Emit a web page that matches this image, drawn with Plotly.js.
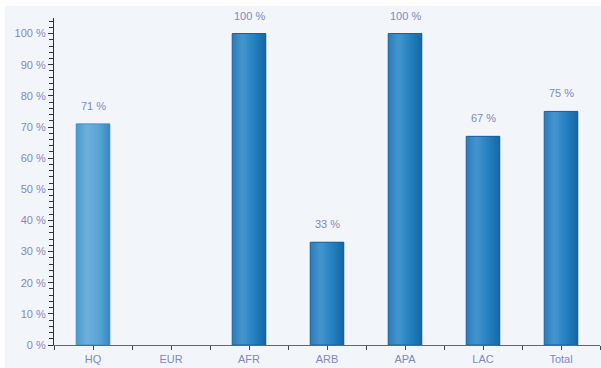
<!DOCTYPE html>
<html>
<head>
<meta charset="utf-8">
<script src="https://cdn.plot.ly/plotly-3.0.1.min.js"></script>
<style>
html,body{margin:0;padding:0;background:#ffffff;}
#chart{width:601px;height:368px;}
</style>
</head>
<body>
<div id="chart"></div>
<script>
// Data
const categories = ["HQ", "EUR", "AFR", "ARB", "APA", "LAC", "Total"];
const values = [71, 0, 100, 33, 100, 67, 75];
const yTickValues = [0, 10, 20, 30, 40, 50, 60, 70, 80, 90, 100];

// Styling
const labelColor = "#7f88c2";
const fontFam = "Liberation Sans, Arial, sans-serif";
const barWidth = 0.43;
const nStripes = 16;
const normalStops = [[0, [44,122,185]], [0.3, [68,150,206]], [0.65, [38,128,192]], [1, [20,104,164]]];
const lightStops  = [[0, [74,152,205]], [0.3, [110,177,222]], [0.7, [88,163,212]], [1, [58,136,194]]];

function gradColor(stops, t) {
  for (let i = 0; i < stops.length - 1; i++) {
    const [t0, c0] = stops[i], [t1, c1] = stops[i + 1];
    if (t >= t0 && t <= t1) {
      const f = (t - t0) / (t1 - t0);
      const c = c0.map((v, j) => Math.round(v + (c1[j] - v) * f));
      return `rgb(${c[0]},${c[1]},${c[2]})`;
    }
  }
  const c = stops[stops.length - 1][1];
  return `rgb(${c[0]},${c[1]},${c[2]})`;
}

const xIdx = categories.map((_, i) => i);
const shownValues = values.map(v => v > 0 ? v : null);
const traces = [];
for (let k = 0; k < nStripes; k++) {
  const t = (k + 0.5) / nStripes;
  const start = -barWidth / 2 + k * barWidth / nStripes;
  traces.push({
    type: "bar",
    x: xIdx,
    y: shownValues,
    offset: start,
    width: barWidth / 2 - start,
    marker: {
      color: categories.map((c, i) => gradColor(i === 0 ? lightStops : normalStops, t)),
      line: {width: 0}
    },
    hoverinfo: "skip",
    showlegend: false
  });
}
// outline
traces.push({
  type: "bar",
  x: xIdx,
  y: shownValues,
  width: barWidth,
  marker: {color: "rgba(0,0,0,0)", line: {color: categories.map((c, i) => i === 0 ? "#3f8cc4" : "#1a609a"), width: 1}},
  hoverinfo: "skip",
  showlegend: false
});

const annotations = values.map((v, i) => v > 0 ? {
  x: i, y: v, xref: "x", yref: "y",
  text: v + " %", showarrow: false,
  yanchor: "bottom", yshift: 10,
  font: {family: fontFam, size: 11, color: labelColor}
} : null).filter(a => a);

const layout = {
  width: 601, height: 368,
  margin: {l: 54, r: 1, t: 18, b: 23, pad: 0},
  paper_bgcolor: "#ffffff",
  plot_bgcolor: "rgba(0,0,0,0)",
  barmode: "overlay",
  showlegend: false,
  font: {family: fontFam, size: 11, color: labelColor},
  shapes: [{
    type: "rect", xref: "paper", yref: "paper", layer: "below",
    x0: -0.0897, x1: 1.01, y0: -0.08, y1: 1.0367,
    fillcolor: "#f2f6fb", line: {width: 0}
  }],
  xaxis: {
    range: [-0.5, 6.5],
    tickmode: "array", tickvals: xIdx, ticktext: categories,
    ticks: "outside", ticklen: 4, tickwidth: 1, tickcolor: "#444",
    showline: true, linecolor: "#666", linewidth: 1,
    showgrid: false, zeroline: false,
    tickfont: {family: fontFam, size: 11, color: labelColor},
    minor: {dtick: 0.5, tick0: -0.5, ticks: "outside", ticklen: 4, tickcolor: "#444", showgrid: false},
    fixedrange: true
  },
  yaxis: {
    range: [0, 105],
    tickmode: "array", tickvals: yTickValues, ticktext: yTickValues.map(v => v + " %"),
    ticks: "outside", ticklen: 5, tickwidth: 1, tickcolor: "#333",
    showline: true, linecolor: "#333", linewidth: 1,
    showgrid: false, zeroline: false,
    tickfont: {family: fontFam, size: 11, color: labelColor},
    minor: {dtick: 2, ticks: "outside", ticklen: 4, tickcolor: "#333", showgrid: false},
    fixedrange: true
  },
  annotations: annotations
};

Plotly.newPlot("chart", traces, layout, {staticPlot: true, displayModeBar: false});
</script>
</body>
</html>
